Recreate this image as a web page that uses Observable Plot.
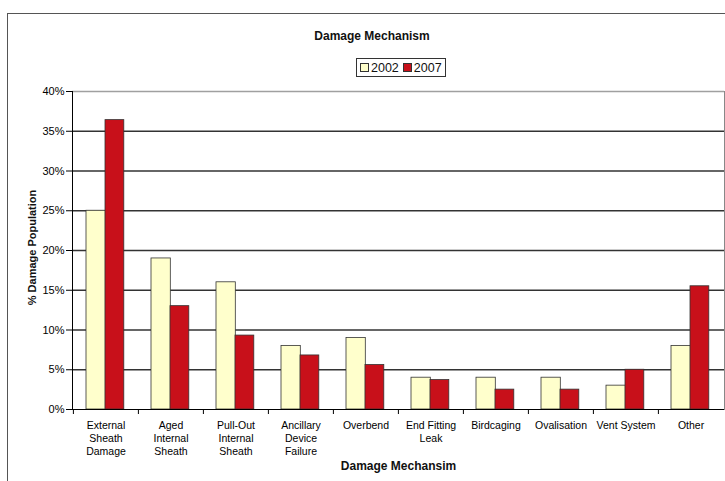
<!DOCTYPE html>
<html>
<head>
<meta charset="utf-8">
<script src="https://cdn.jsdelivr.net/npm/d3@7"></script>
<script src="https://cdn.jsdelivr.net/npm/@observablehq/plot@0.6"></script>
<style>
  body { margin: 0; background: #fff; }
  #wrap { position: relative; width: 725px; height: 481px; overflow: hidden; font-family: "Liberation Sans", Arial, sans-serif; }
  #wrap svg { position: absolute; left: 0; top: 0; }
  .border-top { position: absolute; left: 8px; top: 13px; width: 720px; height: 0; border-top: 1.5px solid #555; }
  .border-left { position: absolute; left: 7px; top: 13px; width: 0; height: 470px; border-left: 1.5px solid #555; }
  #title { position: absolute; left: 272px; width: 200px; top: 29px; text-align: center; font-weight: bold; font-size: 12px; color: #111; }
  #legend { position: absolute; left: 356px; top: 58px; height: 17px; padding: 0 3px; border: 1px solid #333; display: flex; align-items: center; font-size: 12.5px; color: #111; background: #fff; }
  #legend .sw { display: inline-block; width: 7px; height: 7px; border: 1px solid #333; margin-right: 2px; }
  #legend .item { display: flex; align-items: center; margin-right: 4px; }
  #legend .item:last-child { margin-right: 0; }
</style>
</head>
<body>
<div id="wrap">
  <div class="border-top"></div>
  <div class="border-left"></div>
  <div id="title"></div>
  <div id="legend"></div>
</div>
<script>
const categories = ["External Sheath Damage", "Aged Internal Sheath", "Pull-Out Internal Sheath", "Ancillary Device Failure", "Overbend", "End Fitting Leak", "Birdcaging", "Ovalisation", "Vent System", "Other"];
const tickLabels = ["External\nSheath\nDamage", "Aged\nInternal\nSheath", "Pull-Out\nInternal\nSheath", "Ancillary\nDevice\nFailure", "Overbend", "End Fitting\nLeak", "Birdcaging", "Ovalisation", "Vent System", "Other"];
const years = ["2002", "2007"];
const v2002 = [25, 19, 16, 8, 9, 4, 4, 4, 3, 8];
const v2007 = [36.4, 13, 9.3, 6.8, 5.6, 3.7, 2.5, 2.5, 5, 15.5];
const yTicks = [0, 5, 10, 15, 20, 25, 30, 35, 40];
const colors = {"2002": "#FFFFCC", "2007": "#C8101A"};
const titleText = "Damage Mechanism";
const xLabel = "Damage Mechansim";
const yLabel = "% Damage Population";

const data = categories.flatMap((c, i) => [
  {cat: c, year: "2002", v: v2002[i]},
  {cat: c, year: "2007", v: v2007[i]}
]);

const W = 725, H = 481, mL = 72, mR = 1, mT = 91, mB = 72;
const bw = (W - mL - mR) / categories.length;

const chart = Plot.plot({
  width: W,
  height: H,
  marginLeft: mL,
  marginRight: mR,
  marginTop: mT,
  marginBottom: mB,
  style: {fontFamily: "Liberation Sans, Arial, sans-serif", fontSize: "10px", color: "#000", background: "transparent"},
  x: {domain: categories, padding: 0},
  y: {domain: [0, 40]},
  marks: [
    Plot.gridY(yTicks.filter(t => t > 0 && t < 40), {stroke: "#333", strokeOpacity: 1, strokeWidth: 1.3}),
    Plot.ruleY([40], {stroke: "#a0a0a0", strokeWidth: 1.5}),
    Plot.frame({anchor: "right", stroke: "#888"}),
    Plot.barY(data.filter(d => d.year === "2002"), {x: "cat", y: "v", fill: colors["2002"], stroke: "#333", strokeWidth: 0.8, insetLeft: 13, insetRight: bw - 32.5}),
    Plot.barY(data.filter(d => d.year === "2007"), {x: "cat", y: "v", fill: colors["2007"], stroke: "#333", strokeWidth: 0.8, insetLeft: 32, insetRight: bw - 51}),
    Plot.ruleY([0], {stroke: "#000"}),
    Plot.frame({anchor: "left", stroke: "#000"}),
    Plot.axisY({ticks: yTicks, tickFormat: d => d + "%", tickSize: 6, tickPadding: 2, fontSize: 11, label: null, stroke: "#000"}),
    Plot.axisX({tickSize: 0, tickPadding: 10, tickFormat: d => tickLabels[categories.indexOf(d)], label: null, fontSize: 10.5, lineHeight: 1.24}),
    Plot.axisX({tickSize: 5, tickFormat: () => "", dx: -bw / 2, label: null, stroke: "#000"}),
    Plot.text([yLabel], {text: d => d, frameAnchor: "left", textAnchor: "middle", lineAnchor: "middle", rotate: -90, dx: -40, dy: -3, fontWeight: "bold", fontSize: 11, fill: "#111"}),
    Plot.text([xLabel], {text: d => d, frameAnchor: "bottom", dy: 60, fontWeight: "bold", fontSize: 12, fill: "#111"})
  ]
});

const wrap = document.getElementById("wrap");
wrap.insertBefore(chart, wrap.firstChild);
document.getElementById("title").textContent = titleText;
const legend = document.getElementById("legend");
for (const y of years) {
  const item = document.createElement("span");
  item.className = "item";
  const sw = document.createElement("span");
  sw.className = "sw";
  sw.style.background = colors[y];
  item.appendChild(sw);
  item.appendChild(document.createTextNode(y));
  legend.appendChild(item);
}
</script>
</body>
</html>
